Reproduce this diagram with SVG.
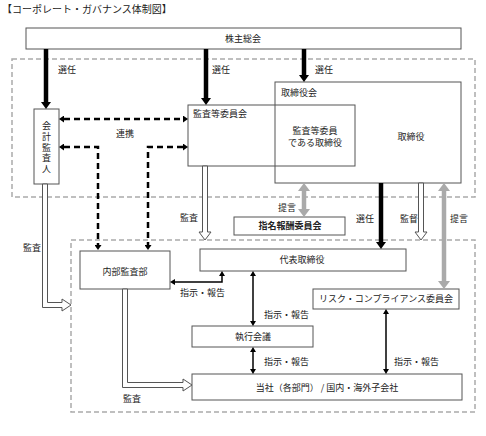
<svg xmlns="http://www.w3.org/2000/svg" width="486" height="436" viewBox="0 0 486 436">
<style>
text{font-family:"Noto Sans CJK JP","Noto Sans",sans-serif;font-size:9px;fill:#222}
.c{text-anchor:middle}
.box{fill:#fff;stroke:#555;stroke-width:1}
.grp{fill:none;stroke:#aaa;stroke-width:1.5;stroke-dasharray:5 3}
.thick{fill:none;stroke:#000;stroke-width:4.5;marker-end:url(#mb)}
.gray{fill:none;stroke:#aaa;stroke-width:4.5;marker-start:url(#mg);marker-end:url(#mg)}
.dash{fill:none;stroke:#000;stroke-width:2.5;stroke-dasharray:6 4;marker-start:url(#md);marker-end:url(#md)}
.thin{fill:none;stroke:#000;stroke-width:1.5;marker-start:url(#mt);marker-end:url(#mt)}
.hollow{fill:#fff;stroke:#555;stroke-width:1}
</style>
<defs>
<marker id="mb" markerUnits="userSpaceOnUse" markerWidth="7" markerHeight="10" refX="0" refY="5" orient="auto-start-reverse"><path d="M0,0 L7,5 L0,10 z" fill="#000"/></marker>
<marker id="mg" markerUnits="userSpaceOnUse" markerWidth="8" markerHeight="12" refX="0" refY="6" orient="auto-start-reverse"><path d="M0,0 L8,6 L0,12 z" fill="#aaa"/></marker>
<marker id="md" markerUnits="userSpaceOnUse" markerWidth="5" markerHeight="7" refX="0" refY="3.5" orient="auto-start-reverse"><path d="M0,0 L5,3.5 L0,7 z" fill="#000"/></marker>
<marker id="mt" markerUnits="userSpaceOnUse" markerWidth="5" markerHeight="6" refX="0" refY="3" orient="auto-start-reverse"><path d="M0,0 L5,3 L0,6 z" fill="#000"/></marker>
</defs>
<rect width="486" height="436" fill="#fff"/>
<text x="2" y="13" style="font-size:10px">【コーポレート・ガバナンス体制図】</text>

<rect class="grp" x="12" y="59" width="463" height="138"/>
<rect class="grp" x="71" y="240" width="404" height="172"/>

<g id="shareholders"><rect class="box" x="26" y="28" width="435" height="21"/><text class="c" x="243" y="42">株主総会</text></g>
<g id="board"><rect class="box" x="275" y="82" width="186" height="101"/><text x="281" y="96">取締役会</text><text class="c" x="411" y="140">取締役</text></g>
<g id="audit-committee"><rect class="box" x="188" y="105" width="167" height="61" style="fill:none"/><text x="193" y="117">監査等委員会</text><text class="c" x="315" y="134">監査等委員</text><text class="c" x="315" y="146">である取締役</text></g>
<g id="accounting-auditor"><rect class="box" x="34" y="109" width="25" height="75"/><text x="46.5" y="121.5" writing-mode="vertical-rl" letter-spacing="1.6">会計監査人</text></g>
<g id="nomination"><rect class="box" x="234" y="217" width="111" height="18"/><text class="c" x="290" y="229" font-weight="bold">指名報酬委員会</text></g>
<g id="internal-audit"><rect class="box" x="80" y="251" width="90" height="38"/><text class="c" x="125" y="275">内部監査部</text></g>
<g id="representative"><rect class="box" x="200" y="249" width="206" height="22"/><text class="c" x="302" y="263">代表取締役</text></g>
<g id="risk"><rect class="box" x="313" y="289" width="146" height="20"/><text class="c" x="386" y="302">リスク・コンプライアンス委員会</text></g>
<g id="exec"><rect class="box" x="192" y="326" width="121" height="21"/><text class="c" x="253" y="340">執行会議</text></g>
<g id="company"><rect class="box" x="192" y="374" width="270" height="26"/><text class="c" x="327" y="391">当社（各部門） / 国内・海外子会社</text></g>

<g id="connectors">
<path class="thick" d="M46,49 V102"/>
<path class="thick" d="M206,49 V98"/>
<path class="thick" d="M304,49 V75"/>
<path class="thick" d="M381,183 V242"/>
<path class="gray" d="M304,191 V209"/>
<path class="gray" d="M444,191 V281"/>
<path class="dash" d="M64,119 H183"/>
<path class="dash" d="M64,147 H98 V245"/>
<path class="dash" d="M183,147 H148 V245"/>
<path class="thin" d="M175,282 H222 V276"/>
<path class="thin" d="M253,276 V321"/>
<path class="thin" d="M253,352 V369"/>
<path class="thin" d="M386,314 V369"/>
<polygon class="hollow" points="42.5,184 42.5,307.5 62,307.5 62,311 71,305 62,299 62,302.5 47.5,302.5 47.5,184"/>
<polygon class="hollow" points="202.5,166 207.5,166 207.5,232 211,232 205,240 199,232 202.5,232"/>
<polygon class="hollow" points="418.5,183 423.5,183 423.5,232 427,232 421,240 415,232 418.5,232"/>
<polygon class="hollow" points="122.5,289 122.5,387.5 183,387.5 183,391 192,385 183,379 183,382.5 127.5,382.5 127.5,289"/>
</g>

<g id="labels">
<text x="58" y="73">選任</text>
<text x="212" y="73">選任</text>
<text x="315" y="73">選任</text>
<text class="c" x="125" y="137">連携</text>
<text x="23" y="251">監査</text>
<text x="180" y="221">監査</text>
<text x="278" y="211">提言</text>
<text x="356" y="222">選任</text>
<text x="400" y="222">監督</text>
<text x="450" y="222">提言</text>
<text x="180" y="296">指示・報告</text>
<text x="264" y="318">指示・報告</text>
<text x="264" y="365">指示・報告</text>
<text x="394" y="365">指示・報告</text>
<text x="123" y="402">監査</text>
</g>
</svg>
